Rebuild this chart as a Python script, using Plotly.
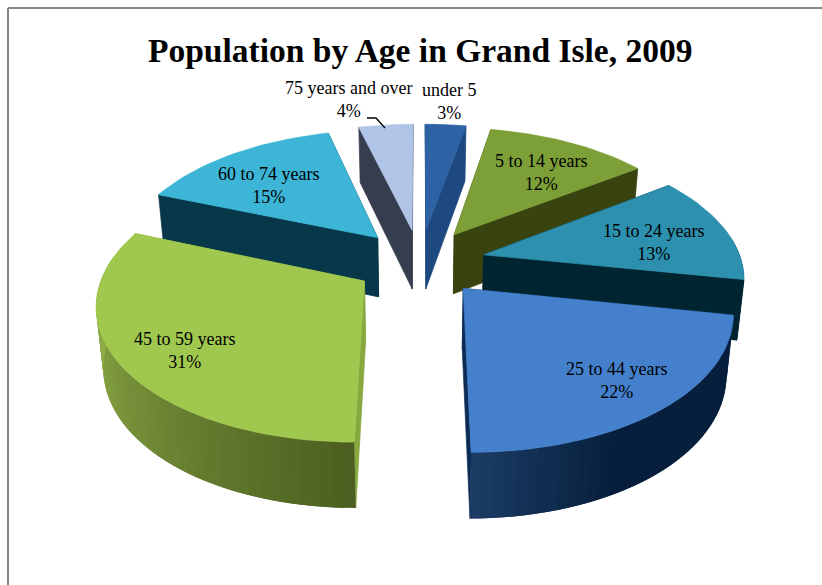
import numpy as np
import plotly.graph_objects as go

TITLE = "Population by Age in Grand Isle, 2009"
categories = ["under 5", "5 to 14 years", "15 to 24 years", "25 to 44 years",
              "45 to 59 years", "60 to 74 years", "75 years and over"]
values = [3, 12, 13, 22, 31, 15, 4]
top_colors = ["#2d62a4", "#7c9f38", "#2c90ae", "#4480cc", "#a0c84f", "#3cb5d6", "#b0c4e8"]
wall_colors = ["#1d4880", "#38430f", "#012530", "#0c2c55", "#86a83f", "#07384a", "#363d4f"]
# shading of the outer wall: (angle in degrees, colour) stops
wall_stops = {
    3: [(100, "#071f3c"), (152, "#071f3c"), (180, "#1c3d66")],
    4: [(180, "#4c5f20"), (262, "#8dab47"), (292, "#8dab47")],
}
label_pos = {0: (449, 101), 1: (541, 172), 2: (653, 242), 3: (616, 380),
             4: (184, 350), 5: (268, 185), 6: (348, 99)}
paint_order = [0, 6, 1, 5, 2, 4, 3]

# projection of the pie plane to the picture
CX, HORIZON, H, K, F, EXPLODE, DEPTH, BOTTOM_SHRINK = 420, -608, 870, 0.15, 258, 0.255, 60, 0.978


def project(X, Y, low=False):
    w = 1 + K * np.asarray(Y, float)
    u = F * np.asarray(X, float) / w
    v = HORIZON + H / w
    if low:
        return CX + u * BOTTOM_SHRINK, v + DEPTH / np.sqrt(w)
    return CX + u, v


def hex2rgb(c):
    return np.array([int(c[i:i + 2], 16) for i in (1, 3, 5)], float)


def stop_color(stops, deg):
    a = [s[0] for s in stops]
    rgb = np.array([hex2rgb(s[1]) for s in stops])
    return "rgb(%d,%d,%d)" % tuple(np.interp(deg, a, rgb[:, j]) for j in range(3))


def poly(xs, ys, color, name, width=0.7):
    return go.Scatter(x=list(xs) + [xs[0]], y=list(ys) + [ys[0]], mode="lines", fill="toself",
                      fillcolor=color, line=dict(color=color, width=width), name=name,
                      hoverinfo="name", showlegend=False)


edges = np.cumsum([0] + values) / sum(values) * 2 * np.pi
fig = go.Figure()
for i in paint_order:
    a0, a1 = edges[i], edges[i + 1]
    mid = (a0 + a1) / 2
    ax, ay = EXPLODE * np.sin(mid), EXPLODE * np.cos(mid)
    th = np.linspace(a0, a1, max(6, int(np.degrees(a1 - a0) / 2)))
    rx, ry = ax + np.sin(th), ay + np.cos(th)
    name = f"{categories[i]}: {values[i]}%"
    # radial walls
    for t in (a0, a1):
        ex, ey = ax + np.sin(t), ay + np.cos(t)
        px, py = project([ax, ex], [ay, ey])
        qx, qy = project([ax, ex], [ay, ey], low=True)
        fig.add_trace(poly([px[0], px[1], qx[1], qx[0]], [py[0], py[1], qy[1], qy[0]], wall_colors[i], name))
    # outer wall: overlapping strips so that no seam shows between the shades
    px, py = project(rx, ry)
    qx, qy = project(rx, ry, low=True)
    stops = wall_stops.get(i)
    n = len(th)
    for j in range(n - 1):
        if np.cos((th[j] + th[j + 1]) / 2) > 0.15:
            continue
        k = min(j + 2, n - 1)
        deg = np.degrees((th[j] + th[j + 1]) / 2)
        col = stop_color(stops, deg) if stops else wall_colors[i]
        fig.add_trace(poly([px[j], px[j + 1], px[k], qx[k], qx[j + 1], qx[j]],
                           [py[j], py[j + 1], py[k], qy[k], qy[j + 1], qy[j]], col, name, width=0))
    # top face
    tx, ty = project(np.r_[ax, rx], np.r_[ay, ry])
    fig.add_trace(poly(list(tx), list(ty), top_colors[i], name))

annotations = [dict(x=label_pos[i][0], y=label_pos[i][1], xref="x", yref="y", showarrow=False,
                    text=f"{categories[i]}<br>{values[i]}%", align="center",
                    font=dict(family="Liberation Serif", size=18, color="#000000"))
               for i in range(len(values))]
annotations.append(dict(x=420, y=50, xref="x", yref="y", showarrow=False, text=f"<b>{TITLE}</b>",
                        font=dict(family="Liberation Serif", size=33.5, color="#000000")))

fig.update_layout(
    width=822, height=585, margin=dict(l=0, r=0, t=0, b=0), paper_bgcolor="white", plot_bgcolor="white",
    xaxis=dict(range=[0, 822], visible=False, fixedrange=True),
    yaxis=dict(range=[585, 0], visible=False, fixedrange=True),
    showlegend=False, annotations=annotations,
    shapes=[
        dict(type="line", xref="x", yref="y", x0=8, y0=8, x1=822, y1=8, line=dict(color="#868686", width=2)),
        dict(type="line", xref="x", yref="y", x0=8, y0=8, x1=8, y1=585, line=dict(color="#868686", width=2)),
        dict(type="path", xref="x", yref="y", path="M 367 118 L 376 118 L 385 128", line=dict(color="#000000", width=1.3)),
    ],
)
fig.write_html("out.html", config={"displayModeBar": False},
               post_script="document.body.style.margin='0';")
